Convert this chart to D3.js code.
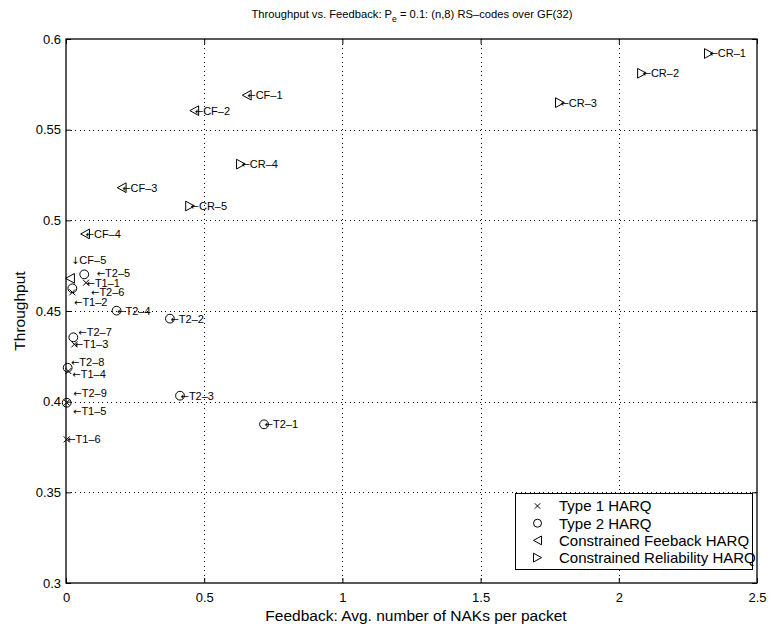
<!DOCTYPE html>
<html>
<head>
<meta charset="utf-8">
<script src="https://cdn.jsdelivr.net/npm/d3@7"></script>
<style>
  body { margin: 0; background: #fff; }
  svg { display: block; }
  text { font-family: "Liberation Sans", Arial, Helvetica, sans-serif; fill: #000; }
</style>
</head>
<body>
<svg id="chart" width="771" height="631"></svg>
<script>
// Type 1 HARQ (T1-1 .. T1-6)
const t1X = [0.0724, 0.0229, 0.030, 0.0085, 0.0025, 0.0025];
const t1Y = [0.4656, 0.4603, 0.4316, 0.4169, 0.3995, 0.3792];
// Type 2 HARQ (T2-1 .. T2-9)
const t2X = [0.7165, 0.376, 0.4125, 0.183, 0.066, 0.0229, 0.0265, 0.006, 0.0025];
const t2Y = [0.3875, 0.4458, 0.4033, 0.4502, 0.4702, 0.4625, 0.4355, 0.4187, 0.3994];
// Constrained feedback HARQ (CF-1 .. CF-5)
const cfX = [0.654, 0.464, 0.2015, 0.069, 0.0145];
const cfY = [0.569, 0.5605, 0.518, 0.4925, 0.468];
// Constrained reliability HARQ (CR-1 .. CR-5)
const crX = [2.326, 2.084, 1.787, 0.633, 0.449];
const crY = [0.592, 0.5811, 0.5649, 0.531, 0.5079];

const xTicks = [0, 0.5, 1, 1.5, 2, 2.5];
const yTicks = [0.3, 0.35, 0.4, 0.45, 0.5, 0.55, 0.6];

// Text anchors (data units) for labels set beside crowded points
const labelAt = {
  "T2–5": [0.111, 0.4711], "T2–6": [0.0905, 0.4607], "T1–2": [0.029, 0.455],
  "T2–7": [0.0445, 0.4386], "T2–8": [0.018, 0.4217], "T1–4": [0.0228, 0.4151],
  "T2–9": [0.0264, 0.4046], "T1–5": [0.0253, 0.3949], "CF–5": [0.018, 0.4781]
};
const arrowFor = { "CF–5": "↓" };

const series = [
  { name: "Type 1 HARQ", prefix: "T1", xs: t1X, ys: t1Y, shape: "x" },
  { name: "Type 2 HARQ", prefix: "T2", xs: t2X, ys: t2Y, shape: "o" },
  { name: "Constrained Feeback HARQ", prefix: "CF", xs: cfX, ys: cfY, shape: "<" },
  { name: "Constrained Reliability HARQ", prefix: "CR", xs: crX, ys: crY, shape: ">" }
];

const L = 66, R = 757, T = 39, B = 583;
const x = d3.scaleLinear().domain([0, 2.5]).range([L, R]);
const y = d3.scaleLinear().domain([0.3, 0.6]).range([B, T]);

const svg = d3.select("#chart");

// dotted grid
const grid = svg.append("g").attr("stroke", "#000").attr("stroke-width", 1)
  .attr("stroke-dasharray", "1,3.5").attr("shape-rendering", "crispEdges");
grid.selectAll(".gx").data(xTicks.slice(1, -1)).join("line")
  .attr("x1", d => Math.round(x(d)) + 0.5).attr("x2", d => Math.round(x(d)) + 0.5)
  .attr("y1", T).attr("y2", B);
grid.selectAll(".gy").data(yTicks.slice(1, -1)).join("line")
  .attr("y1", d => Math.round(y(d)) + 0.5).attr("y2", d => Math.round(y(d)) + 0.5)
  .attr("x1", L).attr("x2", R);

// axes with inward ticks
const fmt = d => String(d);
const ax = svg.append("g").attr("transform", `translate(0,${B})`)
  .call(d3.axisBottom(x).tickValues(xTicks).tickFormat(fmt).tickSize(-5).tickPadding(7));
const ay = svg.append("g").attr("transform", `translate(${L},0)`)
  .call(d3.axisLeft(y).tickValues(yTicks).tickFormat(fmt).tickSize(-5).tickPadding(5));
const axT = svg.append("g").attr("transform", `translate(0,${T})`)
  .call(d3.axisTop(x).tickValues(xTicks).tickFormat("").tickSize(-5));
const ayR = svg.append("g").attr("transform", `translate(${R},0)`)
  .call(d3.axisRight(y).tickValues(yTicks).tickFormat("").tickSize(-5));
[ax, ay, axT, ayR].forEach(g => {
  g.selectAll("path.domain").attr("stroke", "#000").attr("stroke-width", 1.3).attr("d", null);
  g.selectAll("line").attr("stroke", "#000");
  g.selectAll("text").style("font-size", "13px").style("font-family", '"Liberation Sans", Arial, sans-serif');
});
ax.selectAll("text").attr("dy", "0.9em");
svg.append("rect").attr("x", L).attr("y", T).attr("width", R - L).attr("height", B - T)
  .attr("fill", "none").attr("stroke", "#000").attr("stroke-width", 1.3);

// marker shapes
function drawMarker(g, shape, cx, cy, s) {
  if (shape === "x") {
    g.append("path").attr("d", `M${cx - s},${cy - s}L${cx + s},${cy + s}M${cx - s},${cy + s}L${cx + s},${cy - s}`);
  } else if (shape === "o") {
    g.append("circle").attr("cx", cx).attr("cy", cy).attr("r", s);
  } else if (shape === "<") {
    g.append("path").attr("d", `M${cx - s},${cy}L${cx + s},${cy - s * 1.1}L${cx + s},${cy + s * 1.1}Z`);
  } else {
    g.append("path").attr("d", `M${cx + s},${cy}L${cx - s},${cy - s * 1.1}L${cx - s},${cy + s * 1.1}Z`);
  }
}

const marks = svg.append("g").attr("fill", "none").attr("stroke", "#000").attr("stroke-width", 1);
const labels = svg.append("g").style("font-size", "11px");
series.forEach(sr => {
  sr.xs.forEach((xv, i) => {
    drawMarker(marks, sr.shape, x(xv), y(sr.ys[i]), sr.shape === "x" ? 3 : 4.4);
    const name = `${sr.prefix}–${i + 1}`;
    const at = labelAt[name];
    const lx = at ? x(at[0]) : x(xv) + 0.5;
    const ly = at ? y(at[1]) : y(sr.ys[i]);
    const t = labels.append("text").attr("x", lx).attr("y", ly).attr("dy", "0.36em");
    t.append("tspan").style("font-family", '"DejaVu Sans", sans-serif').style("font-size", "10px")
      .text(arrowFor[name] || "←");
    t.append("tspan").text(name);
  });
});

// legend
const lg = svg.append("g");
lg.append("rect").attr("x", 515.5).attr("y", 493.5).attr("width", 237).attr("height", 76)
  .attr("fill", "#fff").attr("stroke", "#000").attr("stroke-width", 1);
const lgMarks = lg.append("g").attr("fill", "none").attr("stroke", "#000");
series.forEach((sr, i) => {
  const cy = 506 + i * 17.2;
  drawMarker(lgMarks, sr.shape, 537.5, cy, sr.shape === "x" ? 2.7 : 4);
  lg.append("text").attr("x", 559).attr("y", cy).attr("dy", "0.36em")
    .style("font-size", "15px").text(sr.name);
});

// titles
const title = svg.append("text").attr("x", 412).attr("y", 18).attr("text-anchor", "middle")
  .style("font-size", "11.2px");
title.append("tspan").text("Throughput vs. Feedback: P");
title.append("tspan").attr("dy", 4).style("font-size", "8.5px").text("e");
title.append("tspan").attr("dy", -4).text(" = 0.1: (n,8) RS–codes over GF(32)");

svg.append("text").attr("x", 416).attr("y", 621).attr("text-anchor", "middle")
  .style("font-size", "15.5px").text("Feedback: Avg. number of NAKs per packet");
svg.append("text").attr("transform", "translate(25,311) rotate(-90)").attr("text-anchor", "middle")
  .style("font-size", "15.5px").text("Throughput");
</script>
</body>
</html>
